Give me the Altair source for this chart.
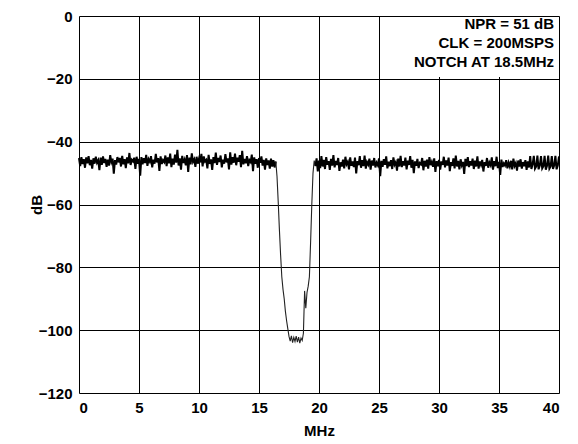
import altair as alt
import pandas as pd

# Noise floor below the notch, 0.0 .. 16.4 MHz (0.1 MHz step), dB
floor_low = [
    -45.2, -47.8, -44.9, -47.1, -45.6, -48.3, -45.0, -46.9, -44.6, -47.5,
    -45.8, -48.6, -45.3, -47.0, -44.8, -46.7, -45.9, -49.1, -45.1, -47.4,
    -44.7, -46.8, -45.5, -48.0, -45.7, -47.6, -44.3, -46.5, -45.4, -50.2,
    -45.9, -47.3, -44.9, -46.6, -45.2, -47.9, -44.5, -47.2, -45.6, -48.4,
    -45.0, -46.9, -43.6, -47.4, -45.8, -46.3, -45.1, -48.7, -44.8, -47.0,
    -45.5, -50.8, -44.9, -47.2, -45.3, -46.8, -44.2, -47.7, -45.6, -46.4,
    -44.6, -48.2, -45.7, -47.0, -43.9, -46.6, -45.2, -49.3, -44.7, -47.1,
    -45.9, -46.5, -44.4, -47.8, -45.0, -46.9, -43.8, -48.1, -45.4, -47.3,
    -44.1, -46.7, -42.6, -47.6, -45.3, -48.9, -44.5, -46.8, -45.7, -47.5,
    -44.3, -49.6, -45.1, -47.2, -43.7, -46.4, -45.6, -48.0, -44.8, -47.0,
    -45.4, -46.6, -43.9, -47.9, -44.7, -46.3, -45.8, -48.5, -44.2, -47.1,
    -45.6, -49.0, -44.9, -46.8, -43.5, -47.4, -45.2, -46.5, -44.4, -48.2,
    -45.7, -47.0, -44.0, -46.6, -45.3, -48.8, -43.4, -47.3, -44.9, -46.7,
    -43.8, -47.5, -45.1, -46.4, -44.3, -48.1, -42.9, -47.2, -45.5, -46.9,
    -44.6, -47.8, -45.9, -46.5, -44.1, -49.4, -45.0, -47.0, -45.6, -48.3,
    -45.2, -46.7, -44.7, -47.6, -45.8, -48.9, -45.3, -47.4, -46.0, -48.6,
    -45.4, -47.9, -45.9, -48.2, -46.3,
]

# Notch, 16.5 .. 19.6 MHz
notch = [
    -51.0, -59.0, -68.0, -76.0, -83.0, -87.0, -90.0, -94.0, -97.0, -99.5,
    -102.0, -103.5, -101.8, -104.0, -102.3, -103.6, -101.9, -103.8, -102.2, -104.1,
    -102.5, -103.3, -101.0, -87.5, -93.0, -88.0, -86.0, -83.0, -72.0, -60.0,
    -50.0, -46.0,
]

# Noise floor above the notch, 19.7 .. 40.0 MHz
floor_high = [
    -47.8, -45.3, -49.5,
    -46.0, -48.4, -44.6, -47.9, -45.8, -48.7, -44.9, -47.3, -46.2, -49.0,
    -45.5, -47.6, -44.3, -48.2, -46.1, -47.4, -45.2, -49.3, -46.6, -47.9,
    -45.7, -48.5, -44.8, -47.2, -46.4, -48.8, -45.0, -47.7, -46.3, -48.1,
    -45.1, -50.1, -46.2, -47.5, -44.6, -48.3, -45.9, -47.8, -44.4, -48.6,
    -46.5, -47.3, -45.4, -48.9, -46.0, -47.6, -45.2, -48.2, -46.7, -47.5,
    -45.3, -51.0, -46.1, -48.0, -45.6, -47.4, -44.7, -48.5, -46.4, -47.8,
    -45.9, -48.7, -45.0, -47.3, -46.5, -49.2, -45.4, -47.9, -44.5, -48.1,
    -46.2, -47.6, -45.1, -48.8, -46.0, -47.4, -44.6, -48.3, -45.8, -50.0,
    -46.3, -47.7, -45.5, -48.4, -46.8, -47.2, -45.2, -49.1, -46.1, -47.9,
    -45.7, -48.6, -44.9, -47.5, -46.4, -48.0, -45.3, -49.6, -46.2, -47.8,
    -45.8, -48.9, -46.3, -47.4, -44.8, -48.2, -46.0, -47.6, -45.1, -49.4,
    -46.5, -47.7, -45.3, -48.5, -44.4, -47.9, -46.1, -48.8, -45.6, -47.5,
    -46.4, -50.3, -45.5, -47.8, -44.9, -48.1, -46.2, -47.6, -45.4, -48.7,
    -46.0, -47.9, -44.7, -48.6, -46.3, -47.4, -45.8, -49.5, -46.5, -47.7,
    -45.2, -48.3, -46.6, -47.5, -45.0, -48.9, -46.2, -47.8, -44.8, -48.4,
    -46.4, -50.6, -45.7, -48.0, -46.9, -47.6, -45.9, -48.5, -46.7, -47.9,
    -46.1, -48.8, -45.4, -47.7, -46.8, -49.2, -46.0, -47.9, -45.6, -48.6,
    -46.5, -47.8, -45.9, -49.0, -46.3, -48.2, -44.6, -48.7, -47.2, -44.5,
    -48.6, -47.9, -44.4, -48.8, -47.6, -44.6, -48.5, -47.8, -44.5, -48.9,
    -47.7, -44.4, -48.6, -47.9, -44.6, -48.7, -47.5, -44.5, -48.8, -47.6,
    -44.7,
]

freq_step = 0.1
x_ticks = [0, 5, 10, 15, 20, 25, 30, 35, 40]
y_ticks = [0, -20, -40, -60, -80, -100, -120]
note_lines = ["NPR = 51 dB", "CLK = 200MSPS", "NOTCH AT 18.5MHz"]

db = floor_low + notch + floor_high
freqs = [round(i * freq_step, 1) for i in range(len(db))]
n_low, n_notch = len(floor_low), len(notch)
df = pd.DataFrame({"MHz": freqs, "dB": db})
df_low = df.iloc[:n_low]
df_high = df.iloc[n_low + n_notch:]
df_notch = df.iloc[n_low - 1: n_low + n_notch + 1]

FONT = "Liberation Sans"
FS = 15

x_enc = alt.X(
    "MHz:Q",
    scale=alt.Scale(domain=[0, 40], nice=False),
    axis=alt.Axis(
        values=x_ticks, format="d", title="MHz", grid=True, gridColor="black",
        gridWidth=1, gridOpacity=1, domain=False, ticks=False, labelPadding=7,
        labelFont=FONT, labelFontSize=FS, labelFontWeight="bold", labelColor="black",
        titleFont=FONT, titleFontSize=FS, titleFontWeight="bold", titleColor="black",
        titlePadding=8,
    ),
)
y_enc = alt.Y(
    "dB:Q",
    scale=alt.Scale(domain=[-120, 0], nice=False),
    axis=alt.Axis(
        values=y_ticks, format="d", title="dB", grid=True, gridColor="black",
        gridWidth=1, gridOpacity=1, domain=False, ticks=False, labelPadding=7,
        labelFont=FONT, labelFontSize=FS, labelFontWeight="bold", labelColor="black",
        titleFont=FONT, titleFontSize=FS, titleFontWeight="bold", titleColor="black",
        titleX=-35,
    ),
)

line_low = alt.Chart(df_low).mark_line(color="black", strokeWidth=2).encode(x=x_enc, y=y_enc)
line_high = alt.Chart(df_high).mark_line(color="black", strokeWidth=2).encode(x="MHz:Q", y="dB:Q")
line_notch = alt.Chart(df_notch).mark_line(color="#222222", strokeWidth=1.1).encode(x="MHz:Q", y="dB:Q")

note_box = alt.Chart(pd.DataFrame({"a": [0]})).mark_rect(color="white").encode(
    x=alt.value(318), x2=alt.value(479), y=alt.value(1), y2=alt.value(61)
)
note_layers = [
    alt.Chart(pd.DataFrame({"text": [t]})).mark_text(
        align="right", baseline="middle", font=FONT, fontSize=FS, fontWeight="bold", color="black"
    ).encode(text="text:N", x=alt.value(475), y=alt.value(8 + 19 * i))
    for i, t in enumerate(note_lines)
]

chart = (
    alt.layer(line_low, line_notch, line_high, note_box, *note_layers)
    .properties(
        width=480,
        height=377,
        padding={"left": 71, "top": 8, "right": 10, "bottom": 48},
        autosize="none",
    )
    .configure_view(stroke="black", strokeWidth=2)
    .configure(background="white")
)

chart.save("out.html", embed_options={"renderer": "svg", "actions": False})
